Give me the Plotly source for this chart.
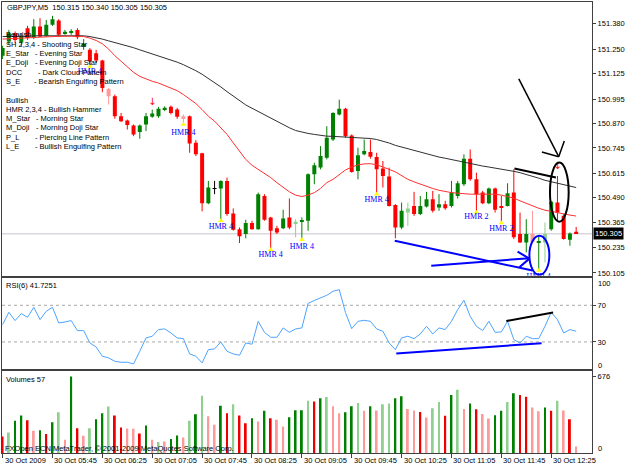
import plotly.graph_objects as go

# ---------------- data ----------------
header_text = "GBPJPY,M5  150.315 150.340 150.305 150.305"

opens = [151.217, 151.290, 151.332, 151.285, 151.358, 151.312, 151.366, 151.319, 151.375, 151.397,
         151.332, 151.336, 151.349, 151.264, 151.247, 151.230, 151.193, 151.047, 151.009, 150.907,
         150.885, 150.860, 150.826, 150.865, 150.904, 150.907, 150.941, 150.955, 150.941, 150.907,
         150.907, 150.771, 150.717, 150.462, 150.537, 150.537, 150.576, 150.409, 150.329, 150.304,
         150.360, 150.329, 150.499, 150.389, 150.333, 150.333, 150.389, 150.355, 150.367, 150.372,
         150.610, 150.644, 150.695, 150.788, 150.916, 150.945, 150.809, 150.627, 150.712, 150.724,
         150.698, 150.639, 150.598, 150.452, 150.338, 150.414, 150.448, 150.406, 150.445, 150.482,
         150.440, 150.457, 150.448, 150.499, 150.559, 150.690, 150.584, 150.516, 150.462, 150.537,
         150.448, 150.448, 150.516, 150.304, 150.261, 150.304, 150.261, 150.261, 150.329, 150.465,
         150.397, 150.275, 150.315]
highs = [151.268, 151.349, 151.341, 151.332, 151.370, 151.404, 151.409, 151.400, 151.421, 151.404,
         151.349, 151.353, 151.358, 151.302, 151.256, 151.247, 151.196, 151.052, 151.018, 150.924,
         150.890, 150.865, 150.865, 150.924, 150.941, 150.955, 150.958, 150.962, 150.950, 150.916,
         150.911, 150.785, 150.720, 150.576, 150.576, 150.579, 150.593, 150.435, 150.338, 150.377,
         150.372, 150.516, 150.508, 150.392, 150.346, 150.428, 150.486, 150.380, 150.389, 150.615,
         150.669, 150.754, 150.856, 150.928, 150.992, 150.950, 150.814, 150.746, 150.788, 150.788,
         150.720, 150.678, 150.644, 150.457, 150.465, 150.465, 150.520, 150.499, 150.520, 150.525,
         150.508, 150.474, 150.576, 150.576, 150.712, 150.737, 150.618, 150.525, 150.542, 150.542,
         150.499, 150.564, 150.635, 150.414, 150.380, 150.423, 150.295, 150.363, 150.474, 150.601,
         150.406, 150.312, 150.340]
lows = [151.200, 151.273, 151.281, 151.264, 151.298, 151.302, 151.312, 151.315, 151.370, 151.319,
        151.324, 151.324, 151.302, 151.247, 151.162, 151.179, 151.030, 150.967, 150.894, 150.877,
        150.839, 150.805, 150.792, 150.831, 150.899, 150.899, 150.933, 150.916, 150.894, 150.865,
        150.720, 150.703, 150.420, 150.457, 150.508, 150.372, 150.397, 150.321, 150.258, 150.282,
        150.326, 150.326, 150.372, 150.224, 150.304, 150.329, 150.329, 150.287, 150.275, 150.321,
        150.559, 150.635, 150.686, 150.780, 150.911, 150.797, 150.618, 150.584, 150.707, 150.690,
        150.508, 150.542, 150.445, 150.282, 150.329, 150.346, 150.397, 150.401, 150.440, 150.414,
        150.423, 150.428, 150.440, 150.486, 150.550, 150.576, 150.414, 150.457, 150.457, 150.414,
        150.360, 150.445, 150.278, 150.258, 150.210, 150.261, 150.117, 150.159, 150.321, 150.372,
        150.275, 150.244, 150.305]
closes = [151.256, 151.332, 151.298, 151.319, 151.307, 151.366, 151.315, 151.375, 151.404, 151.324,
          151.339, 151.341, 151.312, 151.278, 151.188, 151.193, 151.052, 151.009, 150.907, 150.882,
          150.862, 150.814, 150.860, 150.907, 150.921, 150.945, 150.950, 150.924, 150.904, 150.897,
          150.768, 150.712, 150.462, 150.542, 150.538, 150.576, 150.406, 150.326, 150.292, 150.360,
          150.329, 150.508, 150.377, 150.321, 150.312, 150.384, 150.338, 150.367, 150.375, 150.610,
          150.656, 150.703, 150.797, 150.924, 150.945, 150.805, 150.622, 150.707, 150.729, 150.700,
          150.635, 150.601, 150.448, 150.338, 150.423, 150.435, 150.406, 150.448, 150.482, 150.423,
          150.457, 150.436, 150.516, 150.564, 150.690, 150.584, 150.508, 150.462, 150.537, 150.428,
          150.440, 150.513, 150.287, 150.261, 150.304, 150.265, 150.268, 150.304, 150.469, 150.414,
          150.278, 150.307, 150.305]
# candle shade: G dark green, g light green, R red, r pink, D doji
candle_kind = list("GGRGRGRGGR" "GGRGRRRrRR" "RRGGGGGRRr" "RRRGDGRRRG" "RGRRRGRgGG"
                   "GGGGGRRGGR" "RRRRGgRGGR" "GRGGGRRRGR" "RGRRGrGgGR" "RGR")

ma_red = [151.302, 151.303, 151.305, 151.307, 151.309, 151.310, 151.312, 151.314, 151.315, 151.315,
          151.317, 151.317, 151.317, 151.315, 151.307, 151.295, 151.278, 151.251, 151.217, 151.188,
          151.159, 151.132, 151.111, 151.098, 151.086, 151.077, 151.064, 151.052, 151.038, 151.018,
          150.996, 150.972, 150.941, 150.907, 150.882, 150.848, 150.814, 150.771, 150.729, 150.686,
          150.656, 150.635, 150.618, 150.593, 150.567, 150.542, 150.520, 150.503, 150.496, 150.503,
          150.516, 150.537, 150.567, 150.584, 150.610, 150.632, 150.647, 150.658, 150.663, 150.664,
          150.659, 150.649, 150.635, 150.622, 150.601, 150.584, 150.571, 150.559, 150.547, 150.537,
          150.528, 150.521, 150.516, 150.513, 150.510, 150.508, 150.508, 150.508, 150.508, 150.508,
          150.503, 150.496, 150.488, 150.474, 150.460, 150.448, 150.436, 150.426, 150.419, 150.413,
          150.406, 150.401, 150.396]
ma_black = [151.315, 151.315, 151.315, 151.317, 151.317, 151.319, 151.319, 151.319, 151.319, 151.319,
            151.319, 151.319, 151.319, 151.319, 151.315, 151.310, 151.302, 151.293, 151.285, 151.276,
            151.268, 151.258, 151.247, 151.237, 151.225, 151.217, 151.207, 151.196, 151.184, 151.171,
            151.157, 151.140, 151.122, 151.101, 151.079, 151.057, 151.033, 151.009, 150.986, 150.965,
            150.948, 150.931, 150.914, 150.897, 150.878, 150.863, 150.848, 150.834, 150.826, 150.819,
            150.814, 150.809, 150.805, 150.804, 150.802, 150.800, 150.800, 150.799, 150.797, 150.793,
            150.788, 150.780, 150.770, 150.758, 150.749, 150.741, 150.732, 150.724, 150.715, 150.707,
            150.698, 150.692, 150.685, 150.678, 150.671, 150.663, 150.658, 150.652, 150.647, 150.642,
            150.637, 150.632, 150.625, 150.618, 150.610, 150.601, 150.590, 150.579, 150.571, 150.562,
            150.555, 150.549, 150.542]

rsi6 = [48.9, 62.4, 53.3, 60.9, 56.9, 67.8, 54.4, 63.5, 67.8, 50.7,
        51.8, 53.3, 42.4, 42.4, 28.9, 24.5, 14.4, 12.6, 8.9, 7.8,
        7.8, 6.0, 19.8, 34.4, 36.2, 43.5, 44.2, 39.8, 34.4, 33.6,
        16.9, 14.4, 7.1, 21.6, 22.4, 30.0, 19.8, 16.9, 15.5, 28.9,
        27.5, 52.5, 40.5, 35.1, 35.1, 45.3, 40.5, 44.2, 45.3, 72.0,
        75.3, 78.0, 80.9, 85.3, 87.1, 62.0, 44.5, 52.5, 53.6, 52.5,
        44.2, 41.6, 28.9, 21.6, 34.4, 36.2, 33.6, 38.7, 47.1, 38.7,
        45.3, 43.5, 52.5, 65.3, 75.5, 58.0, 47.1, 42.4, 52.5, 40.5,
        40.9, 52.5, 32.5, 28.9, 36.2, 33.6, 33.6, 47.1, 62.4, 54.4,
        39.8, 43.5, 41.7]
rsi_levels = [70, 30]

volumes = [146, 181, 284, 331, 290, 196, 202, 167, 272, 360,
           117, 676, 219, 152, 219, 298, 351, 410, 331, 225,
           217, 214, 173, 243, 117, 97, 102, 123, 155, 138,
           284, 342, 506, 325, 249, 418, 351, 430, 331, 263,
           307, 278, 372, 307, 293, 234, 316, 377, 377, 462,
           454, 483, 494, 413, 351, 360, 413, 442, 372, 413,
           375, 430, 436, 483, 500, 389, 375, 363, 313, 395,
           451, 328, 512, 559, 389, 436, 386, 345, 304, 334,
           372, 451, 527, 512, 497, 401, 369, 401, 372, 462,
           375, 298, 57]
volume_kind = list("RgGGRrGRGg" "rGRrgGGgRR" "rrRGrgrGGr" "gGgrrGRgRR" "GrGRrrGGGg"
                   "RGgrrGGgrG" "rggGGrrRrg" "gRGgrGRrrG" "GgGRRrrGRg" "rRr")

tick_bars = [0, 8, 16, 24, 32, 40, 48, 56, 64, 72, 80, 88]
tick_labels = ["30 Oct 2009", "30 Oct 05:45", "30 Oct 06:25", "30 Oct 07:05", "30 Oct 07:45",
               "30 Oct 08:25", "30 Oct 09:05", "30 Oct 09:45", "30 Oct 10:25", "30 Oct 11:05",
               "30 Oct 11:45", "30 Oct 12:25"]
price_ticks = [151.380, 151.250, 151.125, 150.995, 150.870, 150.745, 150.615, 150.490, 150.365, 150.235, 150.105]
last_price = 150.305

hmr_bars = [14, 29, 35, 43, 48, 60, 76, 80, 86]
hmr_text = ["HMR 4", "HMR 4", "HMR 4", "HMR 4", "HMR 4", "HMR 4", "HMR 2", "HMR 2", "HMR 4"]
hmr_text_price = [151.132, 150.823, 150.338, 150.197, 150.236, 150.477, 150.389, 150.329, 150.085]
sell_arrow_bars = [24, 89]
sell_arrow_price = [150.975, 150.648]

legend_lines = [("Bearish", ""), ("SH 2,3,4 - Shooting Star", ""), ("E_Star", "- Evening Star"),
                ("E_Doji", "- Evening Doji Star"), ("DCC", "- Dark Cloud Pattern"),
                ("S_E", "- Bearish Engulfing Pattern"), ("", ""), ("Bullish", ""),
                ("HMR 2,3,4 - Bullish Hammer", ""), ("M_Star", "- Morning Star"),
                ("M_Doji", "- Morning Doji Star"), ("P_L", "- Piercing Line Pattern"),
                ("L_E", "- Bullish Engulfing Pattern")]
legend_dash_px = [0, 0, 33, 33, 36, 32, 0, 0, 0, 34, 34, 33, 33]

# hand-drawn annotations (bar index, price)
price_drawings = [
    (62.9, 150.270, 85.0, 150.117, "#0000ff", 2),
    (68.75, 150.142, 84.5, 150.180, "#0000ff", 2),
    (82.6, 150.214, 84.5, 150.178, "#0000ff", 2),
    (82.9, 150.134, 84.5, 150.178, "#0000ff", 2),
    (82.8, 151.098, 89.2, 150.700, "#000000", 1.5),
    (86.5, 150.724, 89.2, 150.700, "#000000", 1.5),
    (90.1, 150.780, 89.2, 150.700, "#000000", 1.5),
    (82.1, 150.639, 88.75, 150.593, "#000000", 2),
]
price_ellipses = [(84.5, 150.095, 87.7, 150.295, "#0000ff"), (87.8, 150.367, 90.8, 150.670, "#000000")]
rsi_drawings = [(80.8, 52.8, 88.3, 62.2, "#000000"), (63.15, 17.4, 86.45, 28.6, "#0000ff")]

# ---------------- layout helpers ----------------
W, H = 625, 469
def px(x):
    return x / W
def py(y):
    return 1 - y / H

FONT = "Liberation Sans, Arial, sans-serif"
FS = 7.5
candle_colors = {"G": "#008000", "g": "#8fcf8f", "R": "#ff0000", "r": "#ff9a9a", "D": "#000000"}
volume_colors = {"G": "#008000", "g": "#8fcf8f", "R": "#ee0000", "r": "#ff9a9a"}

fig = go.Figure()
n = len(closes)
bars = list(range(n))

# candles
for k, col in candle_colors.items():
    idx = [i for i in bars if candle_kind[i] == k]
    if not idx:
        continue
    wx, wy = [], []
    for i in idx:
        wx += [i, i, None]
        wy += [lows[i], highs[i], None]
    fig.add_trace(go.Scatter(x=wx, y=wy, mode="lines", line=dict(color=col, width=1),
                             xaxis="x", yaxis="y", hoverinfo="skip"))
    hts = [max(abs(closes[i] - opens[i]), 0.004) for i in idx]
    bases = [(opens[i] + closes[i]) / 2 - h / 2 for i, h in zip(idx, hts)]
    fig.add_trace(go.Bar(x=idx, y=hts, base=bases, width=0.64,
                         marker=dict(color=col, line=dict(width=0)), xaxis="x", yaxis="y"))

# moving averages
fig.add_trace(go.Scatter(x=bars, y=ma_black, mode="lines", line=dict(color="#303030", width=1),
                         xaxis="x", yaxis="y"))
fig.add_trace(go.Scatter(x=bars, y=ma_red, mode="lines", line=dict(color="#ff3030", width=1),
                         xaxis="x", yaxis="y"))

# hammer markers and labels
fig.add_trace(go.Scatter(x=hmr_bars, y=[lows[i] for i in hmr_bars], mode="markers",
                         marker=dict(symbol="triangle-up", size=5, color="#ffff00",
                                     line=dict(width=0)), xaxis="x", yaxis="y"))
fig.add_trace(go.Scatter(x=hmr_bars, y=hmr_text_price, mode="text", text=hmr_text,
                         textfont=dict(family="Liberation Serif, Times New Roman, serif", size=8,
                                       color="#0000ff"),
                         cliponaxis=True, xaxis="x", yaxis="y"))
fig.add_trace(go.Scatter(x=sell_arrow_bars, y=sell_arrow_price, mode="text",
                         text=["\u2193"] * len(sell_arrow_bars),
                         textfont=dict(family="DejaVu Sans", size=10, color="#ff0000"),
                         xaxis="x", yaxis="y"))

# RSI
fig.add_trace(go.Scatter(x=bars, y=rsi6, mode="lines", line=dict(color="#4da3ff", width=1),
                         xaxis="x2", yaxis="y2"))

# Volumes
fig.add_trace(go.Bar(x=bars, y=volumes, width=0.3,
                     marker=dict(color=[volume_colors[k] for k in volume_kind], line=dict(width=0)),
                     xaxis="x3", yaxis="y3"))

xr = [-0.1, 94.55]
xdom = [px(2), px(593)]
axis_common = dict(showgrid=False, zeroline=False, showline=True, mirror=True,
                   linecolor="#404040", linewidth=1)

shapes = []
shapes.append(dict(type="line", xref="paper", yref="y", x0=xdom[0], x1=xdom[1],
                   y0=last_price, y1=last_price, line=dict(color="#c4c4cc", width=1), layer="below"))
for lv in rsi_levels:
    shapes.append(dict(type="line", xref="paper", yref="y2", x0=xdom[0], x1=xdom[1], y0=lv, y1=lv,
                       line=dict(color="#a8a8a8", width=1, dash="3px,3px"), layer="below"))
for x0, y0, x1, y1, col, w in price_drawings:
    shapes.append(dict(type="line", xref="x", yref="y", x0=x0, y0=y0, x1=x1, y1=y1,
                       line=dict(color=col, width=w)))
for x0, y0, x1, y1, col in price_ellipses:
    shapes.append(dict(type="circle", xref="x", yref="y", x0=x0, y0=y0, x1=x1, y1=y1,
                       line=dict(color=col, width=2)))
for x0, y0, x1, y1, col in rsi_drawings:
    shapes.append(dict(type="line", xref="x2", yref="y2", x0=x0, y0=y0, x1=x1, y1=y1,
                       line=dict(color=col, width=2)))

ann = []
def text_at(x, y, t, size=FS, color="black", **kw):
    ann.append(dict(xref="paper", yref="paper", x=px(x), y=py(y), text=t, showarrow=False,
                    xanchor="left", yanchor="middle", font=dict(family=FONT, size=size, color=color), **kw))

text_at(5, 8, header_text)
line_y0, line_step = 35, 9.35
for j, ((code, desc), dpx) in enumerate(zip(legend_lines, legend_dash_px)):
    y = line_y0 + j * line_step
    if code:
        text_at(4, y, code)
    if desc:
        text_at(dpx, y, desc)
text_at(4, 287, "RSI(6) 41.7251")
text_at(4, 381, "Volumes 57")
text_at(3, 450, "FXOpen ECN MetaTrader, \u00a9 2001-2009 MetaQuotes Software Corp.")
text_at(597, 285, "100")
text_at(597, 367, "0")
text_at(597, 450, "0")
for b, lab in zip(tick_bars, tick_labels):
    ann.append(dict(xref="x3", yref="paper", x=b, y=py(462), text=lab, showarrow=False,
                    xanchor="left", yanchor="middle", xshift=0,
                    font=dict(family=FONT, size=FS, color="black")))
ann.append(dict(xref="paper", yref="y", x=px(594), y=last_price, text="150.305", showarrow=False,
                xanchor="left", yanchor="middle", bgcolor="#000000", borderpad=1,
                font=dict(family=FONT, size=FS, color="#ffffff")))

fig.update_layout(
    width=W, height=H, margin=dict(l=0, r=0, t=0, b=0),
    paper_bgcolor="white", plot_bgcolor="white", showlegend=False, barmode="overlay",
    hovermode=False,
    xaxis=dict(domain=xdom, range=xr, anchor="y", showticklabels=False, ticks="", **axis_common),
    yaxis=dict(domain=[py(277), py(2)], range=[150.090, 151.492], side="right", anchor="x",
               tickvals=price_ticks, tickformat=".3f", ticks="outside", ticklen=3, tickcolor="#404040",
               tickfont=dict(family=FONT, size=FS, color="black"), **axis_common),
    xaxis2=dict(domain=xdom, range=xr, anchor="y2", showticklabels=False, ticks="", **axis_common),
    yaxis2=dict(domain=[py(371), py(279)], range=[0, 100], side="right", anchor="x2",
                tickvals=[70, 30], ticks="outside", ticklen=3, tickcolor="#404040",
                tickfont=dict(family=FONT, size=FS, color="black"), **axis_common),
    xaxis3=dict(domain=xdom, range=xr, anchor="y3", showticklabels=False, ticks="outside",
                tickvals=tick_bars, ticklen=4, tickcolor="#404040", **axis_common),
    yaxis3=dict(domain=[py(455), py(373)], range=[0, 720], side="right", anchor="x3",
                tickvals=[676], ticks="outside", ticklen=3, tickcolor="#404040",
                tickfont=dict(family=FONT, size=FS, color="black"), **axis_common),
    shapes=shapes, annotations=ann,
)

fig.write_html("out.html")
